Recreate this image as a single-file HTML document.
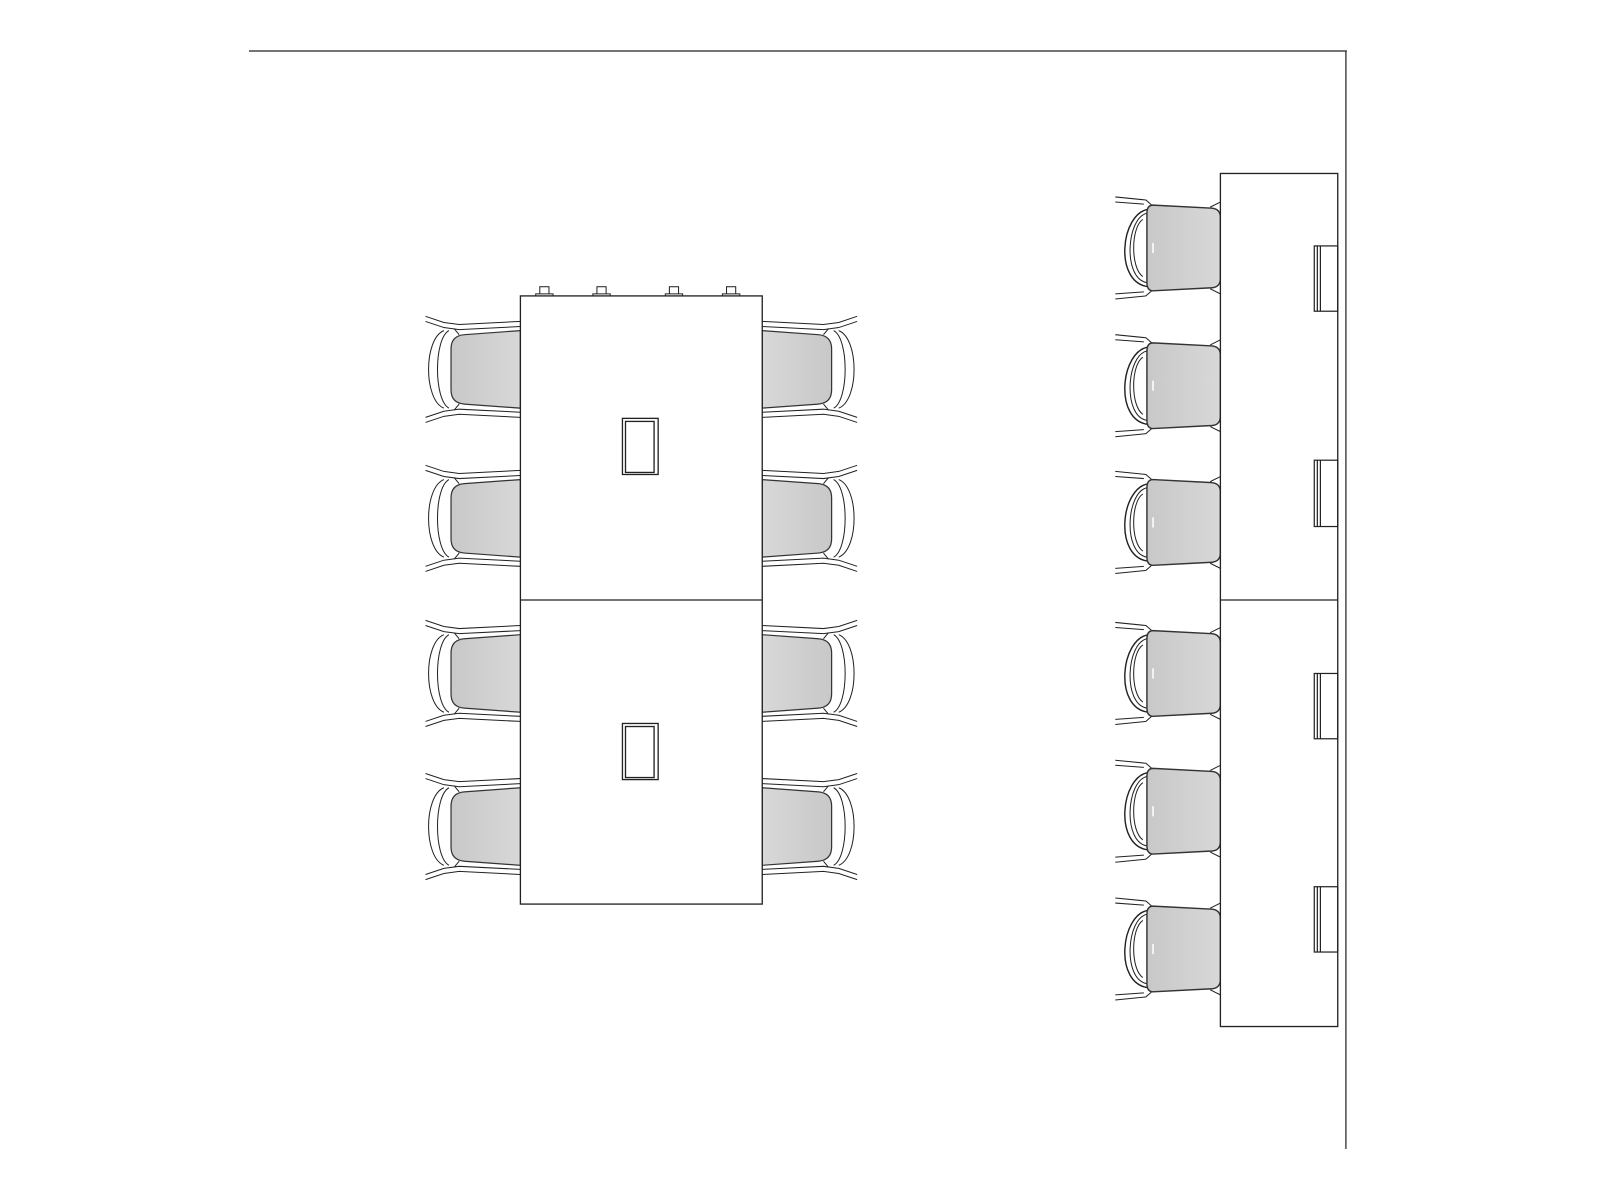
<!DOCTYPE html>
<html><head><meta charset="utf-8"><style>html,body{margin:0;padding:0;background:#fff}svg{display:block}</style></head>
<body>
<svg width="1600" height="1200" viewBox="0 0 1600 1200" xmlns="http://www.w3.org/2000/svg">
<defs>
<linearGradient id="g" x1="0" y1="0" x2="1" y2="0"><stop offset="0" stop-color="#c8c8c8"/><stop offset="1" stop-color="#d8d8d8"/></linearGradient>
<symbol id="lc" overflow="visible">
 <path d="M-93,-52 L-75,-46 L-60,-44 L0,-47 M-93,-47 L-75,-41 L-60,-39 L0,-42" fill="none" stroke="#222" stroke-width="1"/>
 <path d="M-93,52 L-75,46 L-60,44 L0,47 M-93,47 L-75,41 L-60,39 L0,42" fill="none" stroke="#222" stroke-width="1"/>
 <path d="M-75,-38 C-95,-30 -95,30 -75,38" fill="none" stroke="#222" stroke-width="1"/>
 <path d="M-70,-38 C-85,-30 -85,30 -70,38" fill="none" stroke="#222" stroke-width="1"/>
 <path d="M0,-38 L-55,-34 Q-68,-33 -68,-20 L-68,20 Q-68,33 -55,34 L0,38 Z" fill="url(#g)" stroke="#333" stroke-width="1.2"/>
 <path d="M-60,-34 L-65,-40 M-60,34 L-65,40" stroke="#222"/>
</symbol>
<symbol id="rc" overflow="visible">
 <path d="M-103,-50 L-73,-47 L-65,-40 M-103,-45 L-75,-43 M-103,50 L-73,47 L-65,40 M-103,45 L-75,43" fill="none" stroke="#222"/>
 <path d="M-10,-40 L0,-45 M-10,40 L0,45" fill="none" stroke="#222"/>
 <path d="M-70,-38 C-98,-35 -105,35 -70,38" fill="none" stroke="#222" stroke-width="1.4"/>
 <path d="M-72,-34 C-92,-30 -96,30 -72,34" fill="none" stroke="#222" stroke-width="1"/>
 <path d="M-76,-28 C-88,-20 -88,20 -76,28" fill="none" stroke="#222" stroke-width="1"/>
 <path d="M-8,-39 L-66,-42 Q-72,-42 -72,-34 L-72,34 Q-72,42 -66,42 L-8,39 Q0,38 0,30 L0,-30 Q0,-38 -8,-39 Z" fill="url(#g)" stroke="#333" stroke-width="1.4"/>
 <path d="M-66,-5 L-66,5" stroke="#fff" stroke-width="1.5"/>
</symbol>
</defs>
<g transform="scale(1.0204)">
<line x1="244" y1="50" x2="1320" y2="50" stroke="#222" stroke-width="1.2"/>
<line x1="1319" y1="50" x2="1319" y2="1126" stroke="#222" stroke-width="1.2"/>

<use href="#lc" x="510" y="362"/>
<use href="#lc" x="510" y="508"/>
<use href="#lc" x="510" y="660"/>
<use href="#lc" x="510" y="810"/>
<g transform="translate(1257,0) scale(-1,1)">
<use href="#lc" x="510" y="362"/>
<use href="#lc" x="510" y="508"/>
<use href="#lc" x="510" y="660"/>
<use href="#lc" x="510" y="810"/>
</g>
<g fill="#fff" stroke="#222">
<rect x="529" y="281" width="9" height="8"/><rect x="585" y="281" width="9" height="8"/><rect x="656" y="281" width="9" height="8"/><rect x="712" y="281" width="9" height="8"/>
<rect x="525" y="288" width="17" height="3"/><rect x="581" y="288" width="17" height="3"/><rect x="652" y="288" width="17" height="3"/><rect x="708" y="288" width="17" height="3"/>
</g>
<rect x="510" y="290" width="237" height="596" fill="#fff" stroke="#222" stroke-width="1.3"/>
<line x1="510" y1="588" x2="747" y2="588" stroke="#222" stroke-width="1.2"/>
<g fill="none" stroke="#222" stroke-width="1.3">
<rect x="610" y="410" width="35" height="55"/><rect x="613" y="413" width="28" height="50"/>
<rect x="610" y="709" width="35" height="55"/><rect x="613" y="712" width="28" height="50"/>
</g>

<use href="#rc" x="1196" y="243"/>
<use href="#rc" x="1196" y="378"/>
<use href="#rc" x="1196" y="512"/>
<use href="#rc" x="1196" y="660"/>
<use href="#rc" x="1196" y="795"/>
<use href="#rc" x="1196" y="930"/>
<rect x="1196" y="170" width="115" height="836" fill="#fff" stroke="#222" stroke-width="1.3"/>
<line x1="1196" y1="588" x2="1311" y2="588" stroke="#222" stroke-width="1.2"/>
<g fill="none" stroke="#222" stroke-width="1.2">
<rect x="1288" y="241" width="23" height="64"/><line x1="1291" y1="241" x2="1291" y2="305"/><line x1="1294" y1="241" x2="1294" y2="305"/>
<rect x="1288" y="451" width="23" height="65"/><line x1="1291" y1="451" x2="1291" y2="516"/><line x1="1294" y1="451" x2="1294" y2="516"/>
<rect x="1288" y="660" width="23" height="64"/><line x1="1291" y1="660" x2="1291" y2="724"/><line x1="1294" y1="660" x2="1294" y2="724"/>
<rect x="1288" y="869" width="23" height="64"/><line x1="1291" y1="869" x2="1291" y2="933"/><line x1="1294" y1="869" x2="1294" y2="933"/>
</g>
</g>
</svg>
</body></html>
